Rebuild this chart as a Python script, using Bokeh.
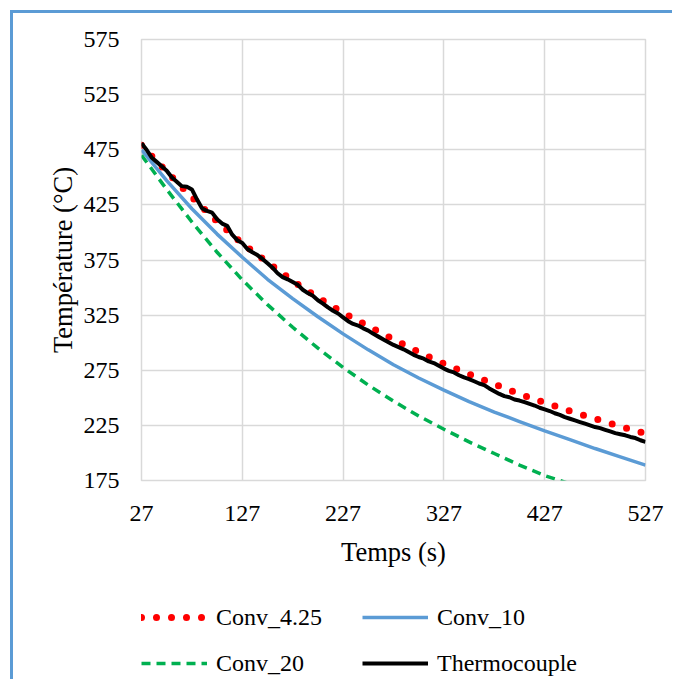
from bokeh.plotting import figure
from bokeh.layouts import column
from bokeh.models import Range1d, FixedTicker, Legend, LegendItem
from bokeh.embed import file_html
from bokeh.resources import INLINE

# ---- data ----
x_ticks = [27, 127, 227, 327, 427, 527]
y_ticks = [175, 225, 275, 325, 375, 425, 475, 525, 575]

t_model = [27, 52, 77, 102, 127, 152, 177, 202, 227, 252, 277, 302, 327,
           352, 377, 402, 427, 452, 477, 502, 527]
conv_425 = [479, 455, 432, 410, 390, 373, 356, 341, 327, 315, 303, 291.5, 281,
            271.5, 262.5, 253.5, 245.5, 238, 231, 224, 217.5]
conv_10 = [475, 447, 421.5, 398.5, 377.5, 357.5, 340, 323.5, 308, 293.5, 280, 268, 257,
           246.5, 237, 228.5, 220, 212, 204, 196.5, 189]
conv_20 = [470, 439, 409.5, 382, 357, 334.5, 314, 295, 277.5, 261.5, 247, 233.5, 221.5,
           210, 199.5, 189, 179.5, 172, 165.5, 159, 153]

t_tc = list(range(27, 528, 5))
thermo = [481, 475, 468, 464, 460, 456, 450, 446, 442, 441.5,
          439, 430, 422, 419.5, 418, 412, 408, 406, 398, 393,
          390.5, 385, 382, 379.5, 376, 372, 368, 363, 359.5, 357.5,
          355, 352.5, 348, 345, 342.5, 338.5, 335.5, 332, 329, 326.5,
          323, 319.5, 317, 315.5, 313, 311, 308, 305.5, 303, 300.5,
          298, 296, 294, 291.5, 289, 287, 285.5, 283, 281.5, 279,
          276.5, 274.5, 273, 270.5, 268.5, 267, 265, 263, 261.5, 258.5,
          256, 253.5, 251.5, 250.5, 248.5, 247.5, 246, 244.5, 243, 241,
          239.5, 238, 236, 234.5, 232.5, 231, 229.5, 228, 226.5, 225,
          223.5, 222.5, 221, 219.5, 218, 217, 216, 214.5, 213.5, 211.5,
          210]

series_names = ["Conv_4.25", "Conv_10", "Conv_20", "Thermocouple"]
series_x = [t_model, t_model, t_model, t_tc]
series_y = [conv_425, conv_10, conv_20, thermo]

FONT = "Liberation Serif"
STYLES = [dict(line_color="#FF0000", line_width=7, line_dash="0 15", line_cap="round"),
          dict(line_color="#5B9BD5", line_width=3.5),
          dict(line_color="#00B050", line_width=3.5, line_dash="9 6"),
          dict(line_color="black", line_width=4)]

# ---- main chart ----
p = figure(width=659, height=570,
           x_range=Range1d(27, 527), y_range=Range1d(175, 575),
           output_backend="svg", toolbar_location=None,
           min_border_left=128, min_border_right=27,
           min_border_top=26, min_border_bottom=103)

p.outline_line_color = "#D9D9D9"
p.outline_line_width = 1.5
p.background_fill_color = "white"
p.border_fill_color = "white"

p.xaxis.ticker = FixedTicker(ticks=x_ticks)
p.yaxis.ticker = FixedTicker(ticks=y_ticks)
for ax in (p.xaxis[0], p.yaxis[0]):
    ax.axis_line_color = None
    ax.major_tick_line_color = None
    ax.minor_tick_line_color = None
    ax.major_tick_out = 0
    ax.major_tick_in = 0
    ax.major_label_text_font = FONT
    ax.major_label_text_font_size = "24px"
    ax.major_label_text_color = "black"
    ax.axis_label_text_font = FONT
    ax.axis_label_text_font_size = "26.5px"
    ax.axis_label_text_font_style = "normal"
    ax.axis_label_text_color = "black"

p.xaxis.axis_label = "Temps (s)"
p.yaxis.axis_label = "Température (°C)"
p.xaxis.major_label_standoff = 25
p.xaxis.axis_label_standoff = 13
p.yaxis.major_label_standoff = 22
p.yaxis.axis_label_standoff = 3

p.xgrid.grid_line_color = "#D9D9D9"
p.ygrid.grid_line_color = "#D9D9D9"
p.xgrid.grid_line_width = 1.5
p.ygrid.grid_line_width = 1.5

for xs, ys, st in zip(series_x, series_y, STYLES):
    p.line(xs, ys, **st)

# ---- legend strip: same series drawn out of view (clipped), used only as legend keys ----
q = figure(width=659, height=96, x_range=Range1d(0, 1), y_range=Range1d(0, 1),
           output_backend="svg", toolbar_location=None,
           x_axis_type=None, y_axis_type=None, min_border=0)
q.outline_line_color = None
q.grid.visible = False
key_renderers = [q.line(xs, ys, **st) for xs, ys, st in zip(series_x, series_y, STYLES)]

positions = [(0, 48), (221, 48), (0, 2), (221, 2)]
for name, rend, loc in zip(series_names, key_renderers, positions):
    leg = Legend(items=[LegendItem(label=name, renderers=[rend])],
                 location=loc, orientation="horizontal",
                 padding=0, margin=0, spacing=0,
                 border_line_color=None, background_fill_alpha=0,
                 glyph_width=66, glyph_height=28, label_standoff=9,
                 label_height=28,
                 label_text_font=FONT, label_text_font_size="24px",
                 label_text_color="black")
    q.add_layout(leg, "center")

layout = column(p, q, spacing=0,
                styles={"margin-left": "10px", "margin-top": "10px",
                        "border-left": "3px solid #5B9BD5",
                        "border-top": "3px solid #5B9BD5"})

open("out.html", "w").write(file_html(layout, INLINE))
